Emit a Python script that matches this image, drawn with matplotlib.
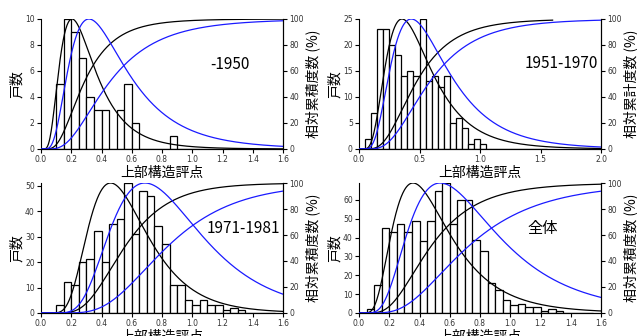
import math
import numpy as np
import matplotlib
matplotlib.use("Agg")
import matplotlib.pyplot as plt

plt.rcParams['font.family'] = ['Noto Sans CJK JP', 'DejaVu Sans']

# ---- data ----
bin_width = 0.05
titles = ["-1950", "1951-1970", "1971-1981", "全体"]
counts_1950 = [0, 0, 5, 10, 9, 7, 4, 3, 3, 0, 3, 5, 2, 0, 0, 0, 0, 1, 0, 0, 0, 0, 0, 0, 0, 0, 0, 0, 0, 0, 0]
counts_1951_1970 = [0, 2, 7, 23, 23, 20, 18, 14, 15, 14, 25, 13, 14, 12, 14, 5, 6, 4, 1, 2, 1, 0, 0, 0, 0, 0, 0, 0, 0, 0, 0]
counts_1971_1981 = [0, 0, 3, 12, 11, 20, 21, 32, 20, 35, 37, 51, 31, 48, 46, 34, 27, 11, 11, 5, 3, 5, 3, 3, 1, 2, 1, 0, 0, 0, 0]
counts_all = [0, 2, 15, 45, 43, 47, 43, 49, 38, 49, 65, 69, 47, 60, 60, 39, 33, 16, 12, 7, 4, 5, 3, 3, 1, 2, 1, 0, 0, 0, 0]
counts = [counts_1950, counts_1951_1970, counts_1971_1981, counts_all]

# fitted lognormal curves (mode, sigma)
black_mode = [0.205, 0.355, 0.46, 0.357]
black_sigma = [0.56, 0.52, 0.42, 0.52]
blue_mode = [0.317, 0.432, 0.687, 0.537]
blue_sigma = [0.58, 0.53, 0.43, 0.53]

x_max = [1.6, 2.0, 1.6, 1.6]
x_ticks = [[0.0, 0.2, 0.4, 0.6, 0.8, 1.0, 1.2, 1.4, 1.6],
           [0.0, 0.5, 1.0, 1.5, 2.0],
           [0.0, 0.2, 0.4, 0.6, 0.8, 1.0, 1.2, 1.4, 1.6],
           [0.0, 0.2, 0.4, 0.6, 0.8, 1.0, 1.2, 1.4, 1.6]]
y_max = [10, 25, 51, 69]
y_ticks = [[0, 2, 4, 6, 8, 10], [0, 5, 10, 15, 20, 25], [0, 10, 20, 30, 40, 50], [0, 10, 20, 30, 40, 50, 60]]
right_ticks = [0, 20, 40, 60, 80, 100]
right_labels = ["相対累積度数 (%)", "相対累計度数 (%)", "相対累積度数 (%)", "相対累積度数 (%)"]
left_label = "戸数"
x_label = "上部構造評点"

title_pos = [(0.78, 0.65), (0.835, 0.66), (0.835, 0.65), (0.76, 0.65)]

_erf = np.frompyfunc(math.erf, 1, 1)


def pdf_rel(x, mode, s):
    return 100.0 * np.exp(-(np.log(x) - np.log(mode)) ** 2 / (2 * s * s))


def cdf(x, mode, s):
    mu = np.log(mode) + s * s
    z = (np.log(x) - mu) / (s * math.sqrt(2))
    return 100.0 * 0.5 * (1 + _erf(z).astype(float))


W, H = 637, 336
fig = plt.figure(figsize=(W / 100, H / 100), dpi=100)
positions = [(41, 19), (359, 19), (41, 183), (359, 183)]
aw, ah = 242, 130

for i in range(4):
    px, py = positions[i]
    ax = fig.add_axes([px / W, 1 - (py + ah) / H, aw / W, ah / H])
    ax2 = ax.twinx()
    c = counts[i]
    left = np.arange(len(c)) * bin_width
    ax.bar(left, c, width=bin_width, align='edge', facecolor='white',
           edgecolor='black', linewidth=0.9, zorder=1)
    ax.set_xlim(0, x_max[i])
    ax.set_ylim(0, y_max[i])
    ax.set_xticks(x_ticks[i])
    if i == 1:
        ax.set_xticklabels([f"{v:.1f}" for v in x_ticks[i]])
    ax.set_yticks(y_ticks[i])
    ax2.set_ylim(0, 100)
    ax2.set_yticks(right_ticks)

    xb = np.linspace(0.001, 1.6, 600)
    xl = np.linspace(0.001, x_max[i], 600)
    ax2.plot(xl, pdf_rel(xl, black_mode[i], black_sigma[i]), color='black', lw=0.9)
    ax2.plot(xb, cdf(xb, black_mode[i], black_sigma[i]), color='black', lw=0.9)
    ax2.plot(xl, pdf_rel(xl, blue_mode[i], blue_sigma[i]), color='#1a1aff', lw=0.9)
    ax2.plot(xl, cdf(xl, blue_mode[i], blue_sigma[i]), color='#1a1aff', lw=0.9)

    for a in (ax, ax2):
        a.spines['top'].set_visible(False)
        a.tick_params(direction='out', length=3, width=0.8, pad=1.5, labelsize=5.5,
                      labelcolor='#333333')
        for lab in a.get_xticklabels() + a.get_yticklabels():
            lab.set_fontfamily(['Liberation Sans Narrow', 'DejaVu Sans'])
    ax2.spines['left'].set_visible(False)

    ax.set_ylabel(left_label, fontsize=10, labelpad=1)
    ax2.set_ylabel(right_labels[i], fontsize=10, labelpad=1)
    ax.set_xlabel(x_label, fontsize=10, labelpad=1.5)
    tx, ty = title_pos[i]
    ax.text(tx, ty, titles[i], transform=ax.transAxes, ha='center', va='center',
            fontsize=11, family=['Liberation Sans Narrow', 'Noto Sans CJK JP', 'DejaVu Sans'])

fig.savefig("out.png", dpi=100)
